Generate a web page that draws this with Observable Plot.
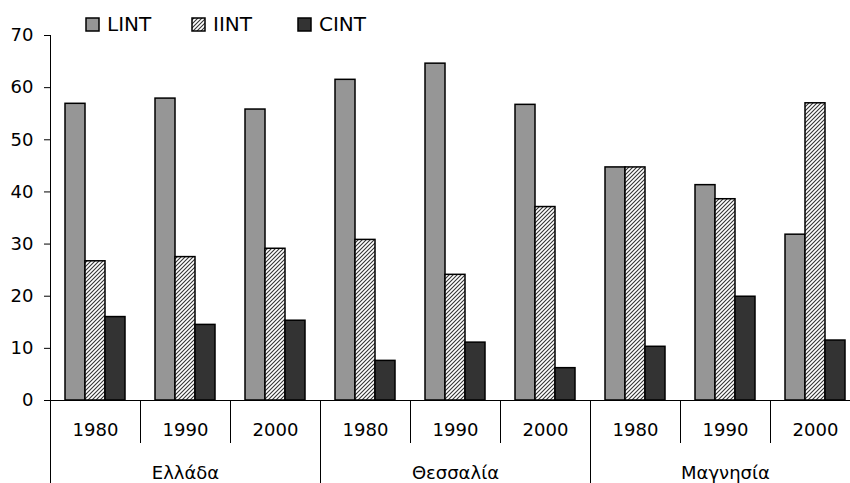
<!DOCTYPE html>
<html><head><meta charset="utf-8">
<script src="https://cdn.jsdelivr.net/npm/d3@7"></script>
<script src="https://cdn.jsdelivr.net/npm/@observablehq/plot@0.6"></script>
<style>
body{margin:0;background:#fff;}
#wrap{position:relative;width:850px;height:483px;font-family:"DejaVu Sans",sans-serif;color:#000;}
#legend{position:absolute;left:85px;top:12px;display:flex;height:24px;}
.item{display:flex;align-items:center;width:106px;font-size:20px;line-height:24px;}
.item svg{margin-right:7px;}
</style></head>
<body>
<svg width="0" height="0" style="position:absolute"><defs>
<pattern id="hatch" patternUnits="userSpaceOnUse" width="4" height="4">
<rect width="4" height="4" fill="#fff"/>
<path d="M-1,1 L1,-1 M0,4 L4,0 M3,5 L5,3" stroke="#333" stroke-width="1.1"/>
</pattern></defs></svg>
<div id="wrap"><div id="legend"></div></div>
<script>
const regions = ["Ελλάδα", "Θεσσαλία", "Μαγνησία"];
const years = ["1980", "1990", "2000"];
const series = ["LINT", "IINT", "CINT"];
const LINT = [56.9, 57.9, 55.8, 61.5, 64.6, 56.7, 44.7, 41.3, 31.8];
const IINT = [26.7, 27.5, 29.1, 30.8, 24.1, 37.1, 44.7, 38.6, 57.0];
const CINT = [16.0, 14.5, 15.3, 7.6, 11.1, 6.2, 10.3, 19.9, 11.5];
const yTicks = [0, 10, 20, 30, 40, 50, 60, 70];
const fills = ["#969696", "url(#hatch)", "#333333"];

const groups = [];
regions.forEach(r => years.forEach(y => groups.push({key: r + " " + y, region: r, year: y})));
const keys = groups.map(g => g.key);
const valuesBySeries = {LINT, IINT, CINT};
const rows = [];
groups.forEach((g, i) => series.forEach(s => rows.push({key: g.key, series: s, value: valuesBySeries[s][i]})));
const regionRows = regions.map((r, i) => ({region: r, first: keys[i * 3], mid: keys[i * 3 + 1]}));

const W = 850, H = 483, mTop = 35, mBottom = 83;
const frameH = H - mTop - mBottom;

const chart = Plot.plot({
  width: W, height: H,
  marginTop: mTop, marginBottom: mBottom, marginLeft: 50, marginRight: -10,
  style: {fontFamily: "DejaVu Sans, sans-serif", fontSize: "18px", color: "#000", background: "transparent", overflow: "hidden"},
  fx: {domain: keys, padding: 0, axis: null},
  x: {domain: series, paddingInner: 0, paddingOuter: 0.75, axis: null},
  y: {domain: [0, 70]},
  color: {domain: series, range: fills},
  marks: [
    Plot.barY(rows, {fx: "key", x: "series", y: "value", fill: "series", stroke: "#000", strokeWidth: 1.5}),
    Plot.ruleY([0], {stroke: "#000", strokeWidth: 1}),
    Plot.axisY({ticks: yTicks, tickSize: 6, tickPadding: 11, label: null, fontSize: 18, stroke: "#000"}),
    Plot.frame({anchor: "left", fx: () => keys[0], stroke: "#000"}),
    Plot.frame({anchor: "left", insetTop: frameH, insetBottom: -42, stroke: "#000"}),
    ...regionRows.map(d => Plot.frame({anchor: "left", fx: () => d.first, insetTop: frameH, insetBottom: -mBottom, stroke: "#000"})),
    Plot.text(groups, {fx: "key", text: "year", frameAnchor: "bottom", dy: 35, fontSize: 18}),
    Plot.text(regionRows, {fx: "mid", text: "region", frameAnchor: "bottom", dy: 78, fontSize: 18})
  ]
});
const wrap = document.getElementById("wrap");
wrap.appendChild(chart);

const legend = d3.select("#legend");
series.forEach((s, i) => {
  const item = legend.append("div").attr("class", "item");
  const sv = item.append("svg").attr("width", 15).attr("height", 15);
  sv.append("rect").attr("x", 1).attr("y", 1).attr("width", 13).attr("height", 13)
    .attr("fill", fills[i]).attr("stroke", "#000").attr("stroke-width", 1.5);
  item.append("span").text(s);
});
</script>
</body></html>
